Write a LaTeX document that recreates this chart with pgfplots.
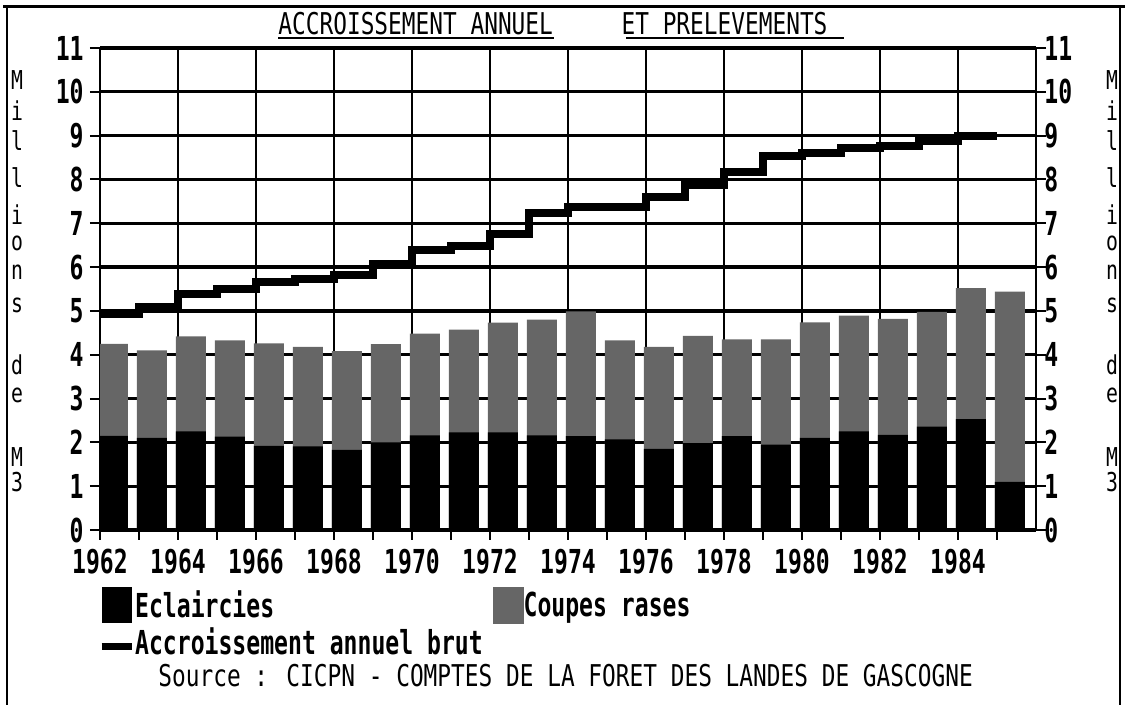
\documentclass[border=0pt]{standalone}
\usepackage{pgfplots}
\usepackage{pgfplotstable}
\pgfplotsset{compat=1.18}
\usepackage{fontspec}
\newfontfamily\mono[FakeStretch=0.7]{DejaVu Sans Mono}
\newfontfamily\tmono[FakeStretch=0.76]{DejaVu Sans Mono}
\newcommand\lblfont{\mono\bfseries\fontsize{16.5pt}{18pt}\selectfont}
\newcommand\txtfont{\tmono\fontsize{15pt}{17pt}\selectfont}
\newcommand\ylfont{\tmono\fontsize{13pt}{14pt}\selectfont}

\pgfplotstableread{
x tot ecl
0.33 4.25 2.15
1.33 4.10 2.10
2.33 4.42 2.25
3.33 4.33 2.13
4.33 4.26 1.92
5.33 4.18 1.91
6.33 4.08 1.83
7.33 4.24 2.00
8.33 4.48 2.16
9.33 4.57 2.23
10.33 4.73 2.23
11.33 4.80 2.16
12.33 4.99 2.14
13.33 4.33 2.07
14.33 4.18 1.85
15.33 4.43 1.98
16.33 4.35 2.14
17.33 4.35 1.95
18.33 4.74 2.10
19.33 4.89 2.25
20.33 4.82 2.17
21.33 4.98 2.36
22.33 5.52 2.53
23.33 5.44 1.10
}\bars

\pgfplotstableread{
x acc
0 4.92
1 5.08
2 5.39
3 5.49
4 5.65
5 5.73
6 5.82
7 6.06
8 6.39
9 6.48
10 6.75
11 7.24
12 7.38
13 7.38
14 7.61
15 7.88
16 8.17
17 8.53
18 8.60
19 8.71
20 8.77
21 8.87
22 9.00
23 9.00
}\acc

\begin{document}
\begin{tikzpicture}
\path[use as bounding box] (0,0) rectangle (564pt,352.5pt);
% frame
\draw[line width=1.5pt] (1.5pt,349pt) -- (562.5pt,349pt);
\draw[line width=0.8pt] (3.5pt,0) -- (3.5pt,349pt);
\draw[line width=0.8pt] (560pt,0) -- (560pt,349pt);

\begin{axis}[
  at={(50pt,87.5pt)}, anchor=south west,
  scale only axis, width=468pt, height=241pt,
  xmin=0, xmax=24, ymin=0, ymax=11,
  xtick={0,2,...,22},
  xticklabels={1962,1964,1966,1968,1970,1972,1974,1976,1978,1980,1982,1984},
  minor xtick={1,3,...,23},
  ytick={0,1,...,11},
  yticklabels={0,1,2,3,4,5,6,7,8,9,10,11},
  xtick pos=bottom, ytick pos=left,
  tick align=outside,
  major tick length=5pt, minor tick length=5pt,
  tick style={black, line width=1pt},
  axis line style={line width=1pt},
  xmajorgrids, ymajorgrids,
  x grid style={black, line width=0.85pt},
  y grid style={black, line width=1.6pt},
  xticklabel style={font=\lblfont, anchor=north, inner sep=0pt, yshift=-4.5pt},
  yticklabel style={font=\lblfont, anchor=east, inner sep=0pt, xshift=-3pt},
  legend style={at={(axis description cs:-0.002,-0.118)}, anchor=north west,
    draw=none, fill=none, inner sep=0pt, outer sep=0pt,
    font=\lblfont, cells={anchor=west}, nodes={inner sep=0pt, inner xsep=0pt},
    /tikz/every even column/.append style={column sep=5pt},
    row sep=2pt},
  legend columns=2,
]
\addplot[ybar, bar width=0.77, bar shift=0pt, fill=black!60, draw=none, forget plot]
  table[x=x, y=tot]{\bars};
\addplot[ybar, bar width=0.77, bar shift=0pt, fill=black, draw=none,
  legend image code/.code={\fill[black] (0pt,-9pt) rectangle (15pt,9pt);}]
  table[x=x, y=ecl]{\bars};
\addlegendentry{Eclaircies}
\addlegendimage{legend image code/.code={\fill[black!60] (0pt,-9pt) rectangle (15pt,9pt);}}
\addlegendentry{Coupes rases}
\addplot[const plot, line width=4pt, black,
  legend image code/.code={\draw[line width=3.5pt] (0pt,-2pt) -- (15pt,-2pt);}]
  table[x=x, y=acc]{\acc};
\addlegendentry{Accroissement annuel brut}
\end{axis}

\begin{axis}[
  at={(50pt,87.5pt)}, anchor=south west,
  scale only axis, width=468pt, height=241pt,
  xmin=0, xmax=24, ymin=0, ymax=11,
  axis x line=none, axis y line*=right,
  ytick={0,1,...,11},
  yticklabels={0,1,2,3,4,5,6,7,8,9,10,11},
  tick align=outside, major tick length=5pt,
  tick style={black, line width=1pt},
  axis line style={line width=1pt},
  yticklabel style={font=\lblfont, anchor=west, inner sep=0pt, xshift=-1pt},
]
\addplot[draw=none] coordinates {(0,0)};
\end{axis}

% title
\node[font=\txtfont, anchor=west, inner sep=0pt] at (139pt,340.5pt)
  {ACCROISSEMENT ANNUEL\ \ \ \ \ ET PRELEVEMENTS};
\draw[line width=0.8pt] (139pt,333.5pt) -- (277pt,333.5pt);
\draw[line width=0.8pt] (313pt,333.5pt) -- (422pt,333.5pt);

% y labels both sides
\foreach \c/\y in {M/312.5, i/297, l/282, l/263.5, i/245, o/231, n/216.5, s/200, d/170, e/155, M/124, 3/111.5}{
  \node[font=\ylfont, inner sep=0pt] at (8.5pt,\y pt) {\c};
  \node[font=\ylfont, inner sep=0pt] at (556pt,\y pt) {\c};
}

% source
\node[font=\txtfont, anchor=west, inner sep=0pt] at (79pt,14.5pt)
  {Source : CICPN - COMPTES DE LA FORET DES LANDES DE GASCOGNE};
\end{tikzpicture}
\end{document}
